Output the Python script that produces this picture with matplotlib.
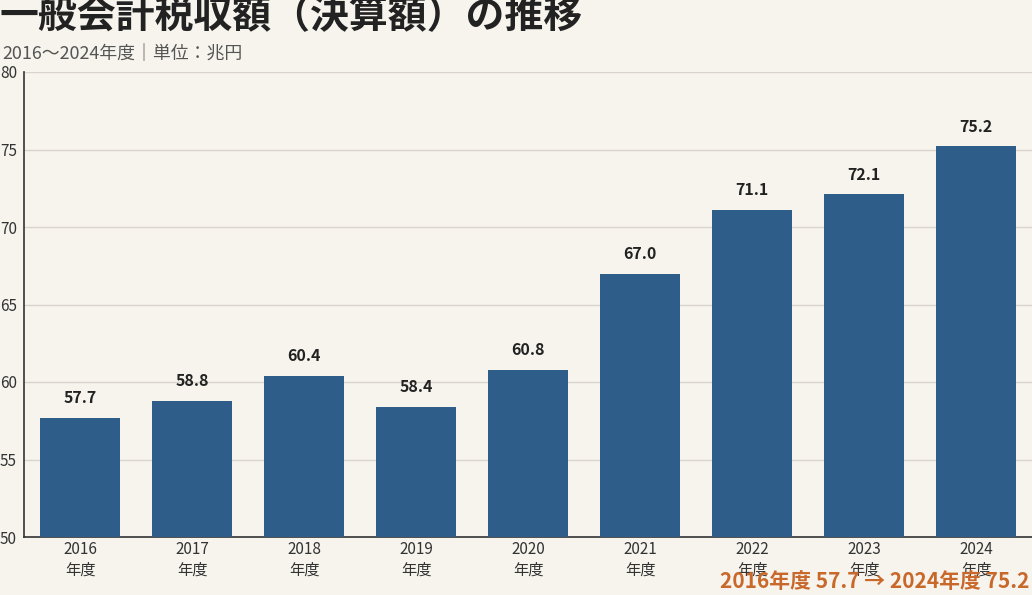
import matplotlib
matplotlib.use("Agg")
import matplotlib.pyplot as plt

plt.rcParams['font.family'] = ['Noto Sans CJK JP', 'DejaVu Sans']

years = ["2016", "2017", "2018", "2019", "2020", "2021", "2022", "2023", "2024"]
values = [57.7, 58.8, 60.4, 58.4, 60.8, 67.0, 71.1, 72.1, 75.2]
yticks = [50, 55, 60, 65, 70, 75, 80]

bg = "#f7f4ed"
bar_color = "#2e5d8a"
text_color = "#222222"

fig = plt.figure(figsize=(10.32, 5.95), dpi=100, facecolor=bg)
ax = fig.add_axes([24/1032, 1-537/595, 1-24/1032, (537-72)/595])
ax.set_facecolor(bg)

x = list(range(len(years)))
bars = ax.bar(x, values, width=0.714, color=bar_color, zorder=3)
for xi, v in zip(x, values):
    ax.text(xi, v + 0.75, f"{v:.1f}", ha="center", va="bottom", fontsize=11.5,
            fontweight="bold", color=text_color, zorder=4)

ax.set_xlim(-0.5, 8.5)
ax.set_ylim(50, 80)
ax.set_yticks(yticks)
ax.set_yticklabels([str(t) for t in yticks])
ax.set_xticks(x)
ax.set_xticklabels([f"{y}\n年度" for y in years], linespacing=1.25)
ax.tick_params(axis="both", length=0, labelsize=11, colors="#333333")
ax.tick_params(axis="y", pad=5)
ax.tick_params(axis="x", pad=3)
ax.grid(axis="y", color="#d9d5cd", linewidth=1, zorder=0)
for s in ["top", "right"]:
    ax.spines[s].set_visible(False)
ax.spines["left"].set_color("#333333")
ax.spines["bottom"].set_color("#333333")
ax.spines["left"].set_linewidth(1.2)
ax.spines["bottom"].set_linewidth(1.2)

fig.text(0.0, 1 - 17/595, "一般会計税収額（決算額）の推移", ha="left", va="center",
         fontsize=28, fontweight="bold", color=text_color)
fig.text(0.002, 1 - 54/595, "2016〜2024年度｜単位：兆円", ha="left", va="center",
         fontsize=12.9, color="#555555")
fig.text(1 - 2/1032, 1 - 582/595,
         f"{years[0]}年度 {values[0]:.1f} → {years[-1]}年度 {values[-1]:.1f}",
         ha="right", va="center", fontsize=15, fontweight="bold", color="#c8692b")

fig.savefig("out.png", dpi=100, facecolor=bg)
